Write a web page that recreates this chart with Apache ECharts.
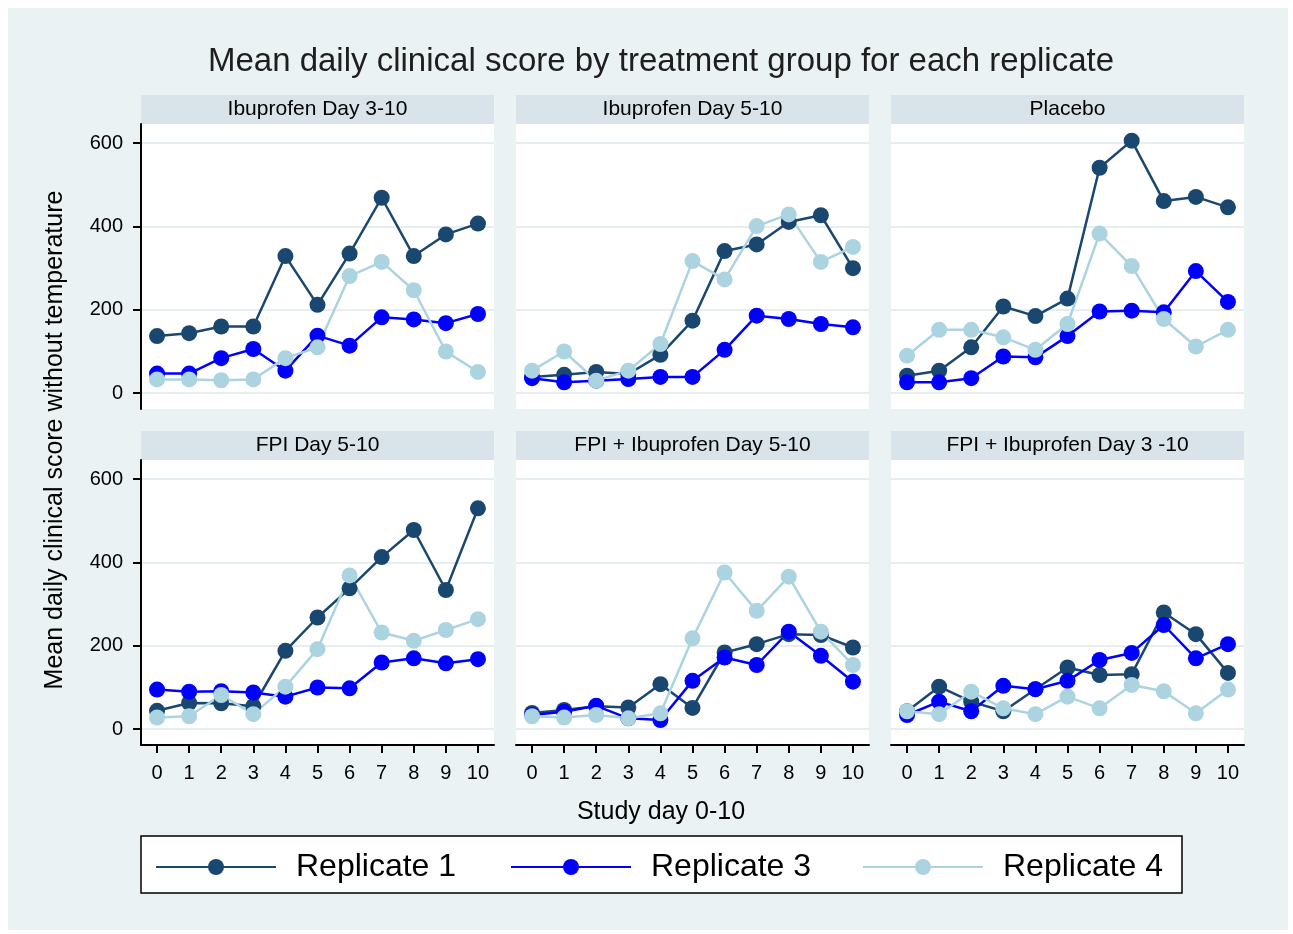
<!DOCTYPE html>
<html>
<head>
<meta charset="utf-8">
<script src="https://cdn.jsdelivr.net/npm/echarts@6/dist/echarts.min.js"></script>
<style>
  html, body { margin: 0; padding: 0; background: #fff; }
  #chart { width: 1293px; height: 934px; }
</style>
</head>
<body>
<div id="chart"></div>
<script>
// study days 0-10
const days = ["0", "1", "2", "3", "4", "5", "6", "7", "8", "9", "10"];
const yTicks = [0, 200, 400, 600];
const panels = ["Ibuprofen Day 3-10", "Ibuprofen Day 5-10", "Placebo",
                "FPI Day 5-10", "FPI + Ibuprofen Day 5-10", "FPI + Ibuprofen Day 3 -10"];
const replicates = ["Replicate 1", "Replicate 3", "Replicate 4"];

// values read per panel: [rep1, rep3, rep4]
const ibu310 = [
  [137, 144, 160, 160, 329, 212, 335, 469, 329, 381, 407],
  [47, 47, 84, 106, 54, 138, 114, 182, 177, 168, 190],
  [33, 33, 31, 33, 84, 110, 281, 315, 247, 100, 51]
];
const ibu510 = [
  [39, 44, 51, 46, 92, 174, 341, 357, 411, 427, 300],
  [36, 26, 30, 34, 39, 39, 104, 186, 178, 166, 158],
  [54, 100, 30, 54, 118, 317, 273, 401, 429, 315, 351]
];
const placebo = [
  [42, 54, 110, 208, 185, 227, 541, 606, 461, 471, 446],
  [26, 26, 36, 88, 86, 137, 196, 198, 194, 293, 219],
  [90, 152, 152, 134, 104, 166, 383, 305, 178, 112, 152]
];
const fpi510 = [
  [44, 63, 62, 55, 188, 268, 338, 413, 478, 334, 530],
  [95, 90, 91, 88, 78, 100, 98, 160, 170, 158, 168],
  [28, 31, 82, 36, 102, 192, 369, 232, 212, 238, 264]
];
const fpiIbu510 = [
  [39, 46, 55, 52, 108, 51, 184, 204, 228, 226, 196],
  [34, 42, 56, 26, 22, 116, 172, 154, 234, 176, 114],
  [31, 28, 34, 26, 38, 218, 376, 284, 366, 234, 154]
];
const fpiIbu310 = [
  [43, 102, 66, 43, 96, 148, 130, 132, 280, 228, 135],
  [34, 66, 43, 104, 96, 116, 166, 183, 250, 170, 204],
  [43, 36, 90, 50, 36, 78, 50, 106, 91, 38, 95]
];
const panelData = [ibu310, ibu510, placebo, fpi510, fpiIbu510, fpiIbu310];

const colors = ["#1a476f", "#0000ff", "#abd4e0"];
const colLeft = [141, 516, 891];
const plotW = 353;
const rowTop = [124, 460];
const plotH = 285;
const stripH = 29;

let chart = echarts.init(document.getElementById("chart"));

let grids = [], xAxes = [], yAxes = [], series = [], graphics = [];

graphics.push({
  type: "rect", z: -10,
  shape: { x: 8, y: 8, width: 1280, height: 922 },
  style: { fill: "#eaf2f3" }
});

for (let p = 0; p < 6; p++) {
  let r = Math.floor(p / 3), c = p % 3;
  grids.push({
    left: colLeft[c], top: rowTop[r], width: plotW, height: plotH,
    show: true, backgroundColor: "#fff", borderWidth: 0
  });
  xAxes.push({
    type: "category", gridIndex: p, data: days, boundaryGap: true,
    axisLine: { show: r === 1, onZero: false, lineStyle: { color: "#000", width: 2 } },
    axisTick: { show: r === 1, alignWithLabel: true, length: 8, lineStyle: { color: "#000", width: 2 } },
    axisLabel: { show: r === 1, margin: 18, fontSize: 20, color: "#000", fontFamily: "Liberation Sans" },
    splitLine: { show: false }
  });
  yAxes.push({
    type: "value", gridIndex: p, min: -38, max: 646,
    axisLine: { show: c === 0, lineStyle: { color: "#000", width: 2 } },
    axisTick: { show: c === 0, customValues: yTicks, length: 8, lineStyle: { color: "#000", width: 2 } },
    axisLabel: { show: c === 0, customValues: yTicks, margin: 18, fontSize: 20, color: "#000", fontFamily: "Liberation Sans" },
    splitLine: { show: true, lineStyle: { color: "#e6eef1", width: 2 } }
  });
  for (let k = 0; k < 3; k++) {
    series.push({
      type: "line", name: replicates[k],
      xAxisIndex: p, yAxisIndex: p,
      data: panelData[p][k],
      symbol: "circle", symbolSize: 16,
      itemStyle: { color: colors[k] },
      lineStyle: { color: colors[k], width: 2.5 },
      emphasis: { disabled: true },
      animation: false
    });
  }
  graphics.push({
    type: "rect",
    shape: { x: colLeft[c], y: rowTop[r] - stripH, width: plotW, height: stripH },
    style: { fill: "#d8e4ea" }
  });
  graphics.push({
    type: "text",
    x: colLeft[c] + plotW / 2, y: rowTop[r] - stripH / 2,
    style: { text: panels[p], fill: "#000", font: "21px Liberation Sans", align: "center", verticalAlign: "middle" }
  });
}

// title and axis titles
graphics.push({
  type: "text", x: 661, y: 62,
  style: { text: "Mean daily clinical score by treatment group for each replicate", fill: "#1e1e1e",
           font: "33px Liberation Sans", align: "center", verticalAlign: "middle" }
});
graphics.push({
  type: "text", x: 55, y: 440, rotation: Math.PI / 2,
  style: { text: "Mean daily clinical score without temperature", fill: "#000",
           font: "25px Liberation Sans", align: "center", verticalAlign: "middle" }
});
graphics.push({
  type: "text", x: 661, y: 812,
  style: { text: "Study day 0-10", fill: "#000", font: "25px Liberation Sans", align: "center", verticalAlign: "middle" }
});
// legend box
graphics.push({
  type: "rect", z: -5,
  shape: { x: 141, y: 836, width: 1041, height: 57 },
  style: { fill: "#fff", stroke: "#000", lineWidth: 1.5 }
});

const legendLeft = [155, 510, 862];
let legends = replicates.map((name, k) => ({
  data: [name], left: legendLeft[k], top: 849, padding: 0,
  itemWidth: 120, itemHeight: 20, selectedMode: false,
  textStyle: { fontSize: 32, color: "#000", fontFamily: "Liberation Sans", padding: [0, 0, 0, 15], lineHeight: 36 }
}));

let option = {
  backgroundColor: "#fff",
  animation: false,
  legend: legends,
  grid: grids,
  xAxis: xAxes,
  yAxis: yAxes,
  series: series,
  graphic: graphics
};

option && chart.setOption(option);
</script>
</body>
</html>
